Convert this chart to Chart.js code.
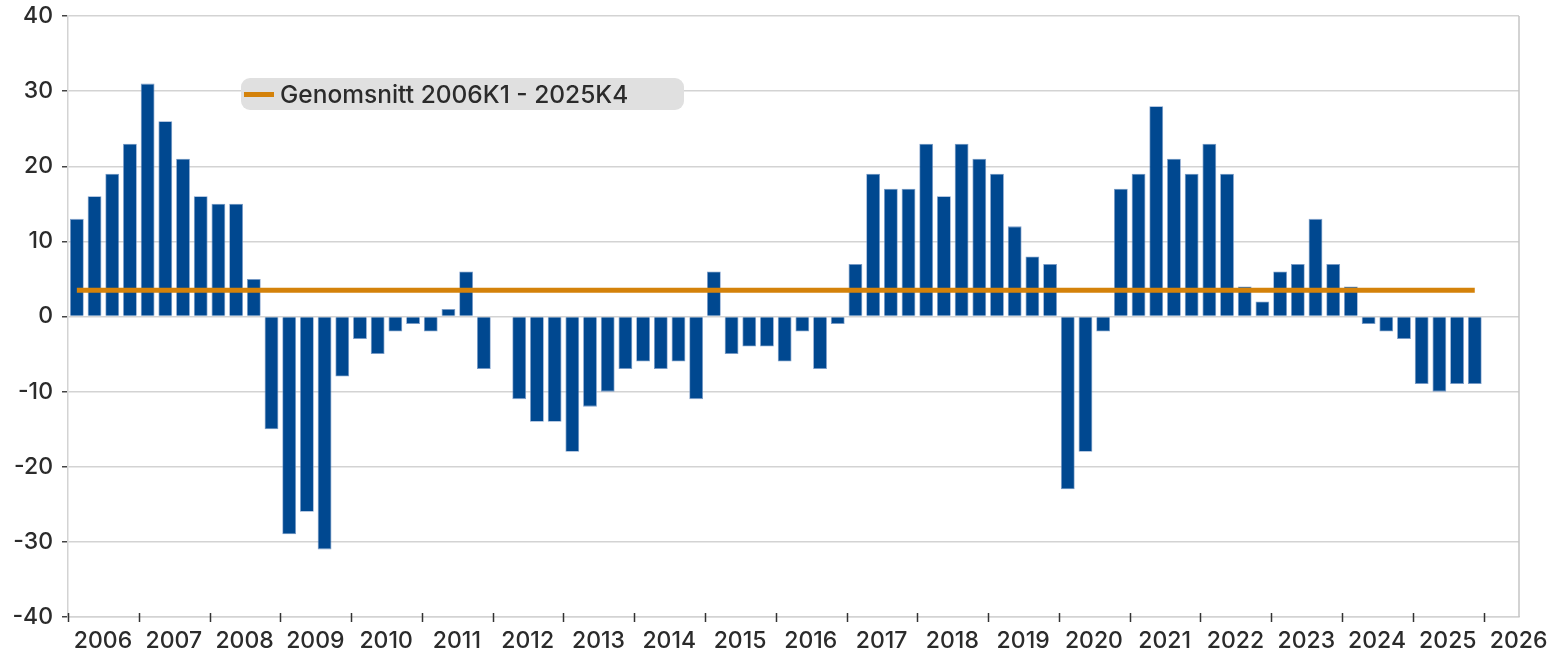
<!DOCTYPE html>
<html>
<head>
<meta charset="utf-8">
<script src="https://cdn.jsdelivr.net/npm/chart.js@4/dist/chart.umd.min.js"></script>
<style>
  html, body { margin: 0; padding: 0; background: #fff; }
  #wrap { position: relative; width: 1555px; height: 655px; }
  #legend {
    position: absolute; left: 241px; top: 78px; width: 443px; height: 32px;
    background: #e0e0e0; border-radius: 9px; box-sizing: border-box;
    display: flex; align-items: center; padding-left: 3px;
    font-family: Inter, "DejaVu Sans", sans-serif; font-weight: 500; font-size: 24.5px; color: #2b2b2b;
  }
  #legend .sw { width: 30px; height: 5px; background: #D4820A; margin-right: 6px; }
</style>
</head>
<body>
<div id="wrap">
  <canvas id="c" width="1555" height="655"></canvas>
  <div id="legend"><span class="sw"></span><span id="legText"></span></div>
</div>
<script>
// ---- data ----
const startYear = 2006;
const endYear = 2026;
const quarterLabels = [];
for (let y = 2006; y <= 2025; y++) for (let q = 1; q <= 4; q++) quarterLabels.push(y + 'K' + q);

const values = [
  13, 16, 19, 23,     // 2006
  31, 26, 21, 16,     // 2007
  15, 15, 5, -15,     // 2008
  -29, -26, -31, -8,  // 2009
  -3, -5, -2, -1,     // 2010
  -2, 1, 6, -7,       // 2011
  0, -11, -14, -14,   // 2012
  -18, -12, -10, -7,  // 2013
  -6, -7, -6, -11,    // 2014
  6, -5, -4, -4,      // 2015
  -6, -2, -7, -1,     // 2016
  7, 19, 17, 17,      // 2017
  23, 16, 23, 21,     // 2018
  19, 12, 8, 7,       // 2019
  -23, -18, -2, 17,   // 2020
  19, 28, 21, 19,     // 2021
  23, 19, 4, 2,       // 2022
  6, 7, 13, 7,        // 2023
  4, -1, -2, -3,      // 2024
  -9, -10, -9, -9     // 2025
];
const averageValue = 3.5;
const averageLabel = 'Genomsnitt 2006K1 - 2025K4';
const yTicks = [-40, -30, -20, -10, 0, 10, 20, 30, 40];

// ---- build points ----
const quarterX = quarterLabels.map((lab) => {
  const yr = parseInt(lab.slice(0, 4), 10);
  const q = parseInt(lab.slice(5), 10);
  return yr + (q - 0.5) / 4;
});
const barPoints = values.map((v, i) => ({ x: quarterX[i], y: v }));
const avgPoints = [
  { x: quarterX[0], y: averageValue },
  { x: quarterX[quarterX.length - 1], y: averageValue }
];

document.getElementById('legText').textContent = averageLabel;

const FONT = 'Inter, "DejaVu Sans", sans-serif';
const TEXT = '#2b2b2b';
const GRID = '#d3d3d3';

const extraTicks = {
  id: 'extraTicks',
  afterDraw(chart) {
    const { ctx, chartArea, scales } = chart;
    ctx.save();
    ctx.strokeStyle = '#c4c4c4';
    ctx.lineWidth = 1.5;
    ctx.beginPath();
    ctx.moveTo(chartArea.right, chartArea.top);
    ctx.lineTo(chartArea.right, chartArea.bottom);
    ctx.stroke();
    ctx.strokeStyle = '#333';
    ctx.lineWidth = 1.5;
    for (let yr = startYear; yr <= endYear; yr++) {
      const px = Math.round(scales.x.getPixelForValue(yr)) + 0.5;
      ctx.beginPath();
      ctx.moveTo(px, chartArea.bottom - 4);
      ctx.lineTo(px, chartArea.bottom + 5);
      ctx.stroke();
    }
    ctx.restore();
  }
};

new Chart(document.getElementById('c'), {
  data: {
    datasets: [
      {
        type: 'line',
        label: averageLabel,
        data: avgPoints,
        borderColor: '#D4820A',
        borderWidth: 5,
        pointRadius: 0,
        fill: false,
        order: 0
      },
      {
        type: 'bar',
        label: 'Värde',
        data: barPoints,
        backgroundColor: '#004890',
        borderColor: 'rgba(110,145,195,0.9)',
        borderWidth: 0.8,
        barPercentage: 0.78,
        categoryPercentage: 1,
        order: 1
      }
    ]
  },
  options: {
    responsive: false,
    animation: false,
    layout: { padding: { top: 16, right: 36, left: 0, bottom: 0 } },
    plugins: { legend: { display: false }, tooltip: { enabled: false } },
    scales: {
      x: {
        type: 'linear',
        offset: false,
        min: startYear,
        max: endYear + 0.5,
        afterFit(s) { s.height = 38; s.paddingLeft = 0; s.paddingRight = 0; },
        grid: { drawOnChartArea: false, tickLength: 6, tickColor: 'rgba(0,0,0,0)', offset: false },
        border: { color: GRID, width: 1.5 },
        ticks: {
          stepSize: 1,
          includeBounds: false,
          autoSkip: false,
          maxRotation: 0,
          labelOffset: 35,
          padding: 4,
          color: TEXT,
          font: { family: FONT, size: 23, weight: 500 },
          callback: (v) => String(v)
        }
      },
      y: {
        min: -40,
        max: 40,
        afterFit(s) { s.width = 68; s.paddingTop = 0; s.paddingBottom = 0; },
        afterBuildTicks(s) { s.ticks = yTicks.map((v) => ({ value: v })); },
        grid: { color: GRID, lineWidth: 1.5, tickLength: 6, tickColor: '#444' },
        border: { color: GRID, width: 1.5 },
        ticks: {
          padding: 9,
          color: TEXT,
          font: { family: FONT, size: 23, weight: 500 }
        }
      }
    }
  },
  plugins: [extraTicks]
});
</script>
</body>
</html>
